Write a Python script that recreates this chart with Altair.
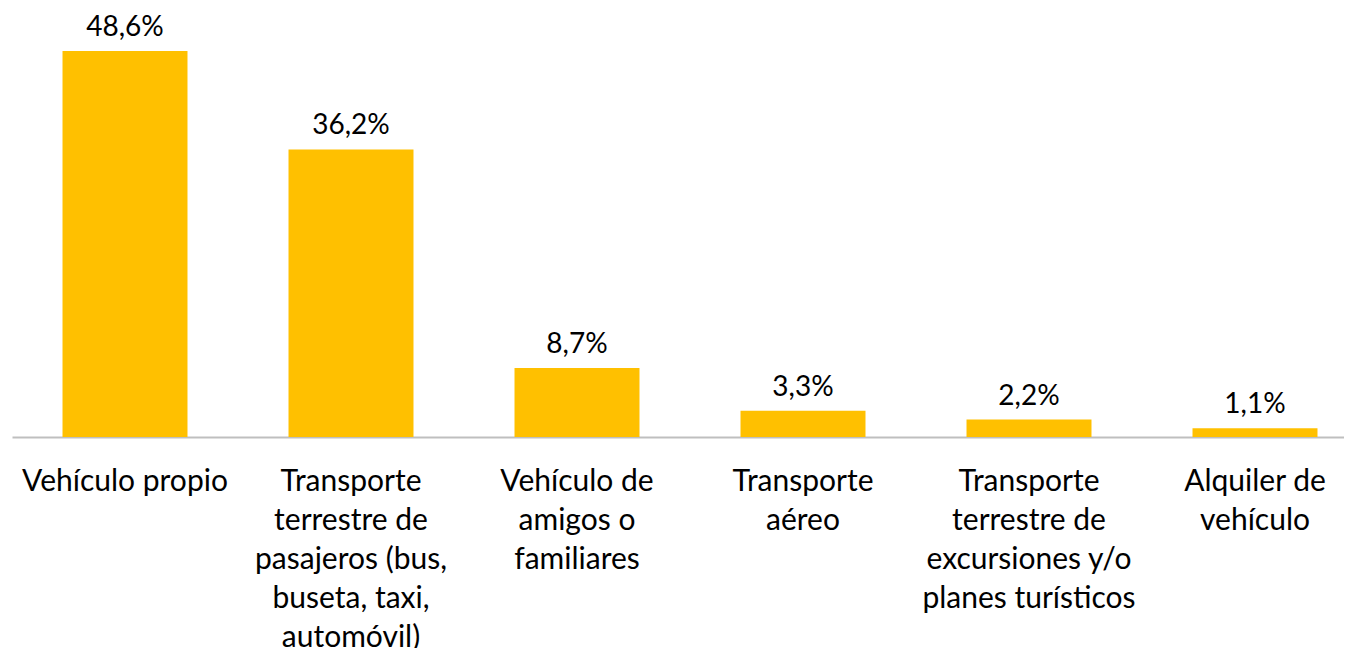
import altair as alt
import pandas as pd

categories = [
    "Vehículo propio",
    "Transporte|terrestre de|pasajeros (bus,|buseta, taxi,|automóvil)",
    "Vehículo de|amigos o|familiares",
    "Transporte|aéreo",
    "Transporte|terrestre de|excursiones y/o|planes turísticos",
    "Alquiler de|vehículo",
]
values = [48.6, 36.2, 8.7, 3.3, 2.2, 1.1]
value_labels = ["48,6%", "36,2%", "8,7%", "3,3%", "2,2%", "1,1%"]

df = pd.DataFrame({"cat": categories, "val": values, "lbl": value_labels})

FONT = "Lato"

x = alt.X(
    "cat:N",
    sort=categories,
    scale=alt.Scale(range=[0, 1356], paddingInner=0.447, paddingOuter=0.2235),
    axis=alt.Axis(
        title=None,
        labelAngle=0,
        ticks=False,
        domainColor="#BFBFBF",
        domainWidth=2,
        labelFont=FONT,
        labelFontSize=30,
        labelColor="#000000",
        labelLineHeight=39,
        labelBaseline="top",
        labelPadding=29,
        labelLimit=400,
        labelExpr="split(datum.label, '|')",
    ),
)
y = alt.Y("val:Q", scale=alt.Scale(domain=[0, 54]), axis=None)

bars = alt.Chart(df).mark_bar(color="#FFC000").encode(x=x, y=y)
text = alt.Chart(df).mark_text(
    font=FONT, fontSize=28, color="#000000", baseline="alphabetic", dy=-15
).encode(x=x, y=y, text="lbl:N")

chart = (
    (bars + text)
    .properties(
        width=1332,
        height=429,
        autosize=alt.AutoSizeParams(type="none"),
        padding={"left": 4, "top": 0, "right": 0, "bottom": 211},
    )
    .configure_view(stroke=None)
)

chart.save("out.html", embed_options={"renderer": "svg", "actions": False})
